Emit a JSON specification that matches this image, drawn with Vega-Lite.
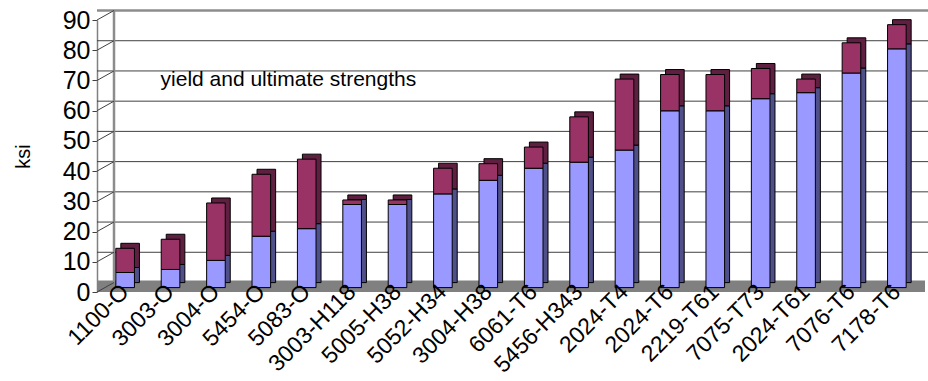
{
  "$schema": "https://vega.github.io/schema/vega-lite/v6.json",
  "autosize": "none",
  "width": 828,
  "height": 272,
  "padding": {"left": 97, "top": 20, "right": 3, "bottom": 89},
  "background": "white",
  "config": {
    "view": {"stroke": null},
    "font": "Liberation Sans"
  },
  "datasets": {
    "alloys": [
      {"alloy": "1100-O", "yield": 5, "ultimate": 13},
      {"alloy": "3003-O", "yield": 6, "ultimate": 16},
      {"alloy": "3004-O", "yield": 9, "ultimate": 28},
      {"alloy": "5454-O", "yield": 17, "ultimate": 37.5},
      {"alloy": "5083-O", "yield": 19.5, "ultimate": 42.5},
      {"alloy": "3003-H118", "yield": 27.5, "ultimate": 29},
      {"alloy": "5005-H38", "yield": 27.5, "ultimate": 29},
      {"alloy": "5052-H34", "yield": 31, "ultimate": 39.5},
      {"alloy": "3004-H38", "yield": 35.5, "ultimate": 41},
      {"alloy": "6061-T6", "yield": 39.5, "ultimate": 46.5},
      {"alloy": "5456-H343", "yield": 41.5, "ultimate": 56.5},
      {"alloy": "2024-T4", "yield": 45.5, "ultimate": 69},
      {"alloy": "2024-T6", "yield": 58.5, "ultimate": 70.5},
      {"alloy": "2219-T61", "yield": 58.5, "ultimate": 70.5},
      {"alloy": "7075-T73", "yield": 62.5, "ultimate": 72.5},
      {"alloy": "2024-T61", "yield": 64.5, "ultimate": 69},
      {"alloy": "7076-T6", "yield": 71, "ultimate": 81},
      {"alloy": "7178-T6", "yield": 79, "ultimate": 87}
    ],
    "grid": [
      {"v": 0}, {"v": 10}, {"v": 20}, {"v": 30}, {"v": 40},
      {"v": 50}, {"v": 60}, {"v": 70}, {"v": 80}, {"v": 90}
    ],
    "one": [{"note": "yield and ultimate strengths"}]
  },
  "layer": [
    {
      "data": {"name": "one"},
      "mark": {"type": "rect", "color": "#808080", "y2Offset": -11.5},
      "encoding": {
        "x": {"value": 0},
        "x2": {"value": "width"},
        "y": {"datum": 0, "type": "quantitative"},
        "y2": {"datum": 0}
      }
    },
    {
      "data": {"name": "grid"},
      "transform": [{"filter": "datum.v > 0 && datum.v < 90"}],
      "mark": {"type": "rule", "color": "#404040", "strokeWidth": 1, "xOffset": 17, "yOffset": -9.5},
      "encoding": {
        "y": {"field": "v", "type": "quantitative"}
      }
    },
    {
      "data": {"name": "grid"},
      "transform": [{"filter": "datum.v == 90"}],
      "mark": {"type": "rule", "color": "#8c8c8c", "strokeWidth": 2.5, "xOffset": 17, "yOffset": -9.5},
      "encoding": {
        "y": {"field": "v", "type": "quantitative"}
      }
    },
    {
      "data": {"name": "one"},
      "mark": {"type": "rule", "color": "#8c8c8c", "strokeWidth": 2.5, "xOffset": 17, "yOffset": -9.5, "y2Offset": -9.5},
      "encoding": {
        "x": {"value": 0},
        "y": {"datum": 0, "type": "quantitative"},
        "y2": {"datum": 90}
      }
    },
    {
      "data": {"name": "grid"},
      "mark": {"type": "rule", "color": "#404040", "strokeWidth": 1, "x2Offset": 17, "y2Offset": -9.5},
      "encoding": {
        "x": {"value": 0},
        "x2": {"value": 0},
        "y": {"field": "v", "type": "quantitative"},
        "y2": {"field": "v"}
      }
    },
    {
      "data": {"name": "one"},
      "mark": {"type": "text", "align": "left", "baseline": "middle", "fontSize": 21, "dx": -10, "color": "black", "font": "Liberation Sans"},
      "encoding": {
        "x": {"datum": "3003-O", "type": "nominal"},
        "y": {"datum": 70, "type": "quantitative"},
        "text": {"field": "note"}
      }
    },
    {
      "data": {"name": "alloys"},
      "encoding": {
        "x": {"field": "alloy", "type": "nominal", "sort": null}
      },
      "layer": [
        {
          "mark": {"type": "bar", "color": "#4f4f8a", "stroke": "black", "strokeWidth": 1, "xOffset": 5, "yOffset": -9.4, "y2Offset": -9.4},
          "encoding": {
            "y": {"field": "yield", "type": "quantitative"},
            "y2": {"datum": 0}
          }
        },
        {
          "mark": {"type": "bar", "color": "#5e1f40", "stroke": "black", "strokeWidth": 1, "xOffset": 5, "yOffset": -9.4, "y2Offset": -9.4},
          "encoding": {
            "y": {"field": "ultimate", "type": "quantitative"},
            "y2": {"field": "yield"}
          }
        },
        {
          "mark": {"type": "bar", "color": "#9999ff", "stroke": "black", "strokeWidth": 1, "yOffset": -4.4, "y2Offset": -4.4},
          "encoding": {
            "y": {"field": "yield", "type": "quantitative"},
            "y2": {"datum": 0}
          }
        },
        {
          "mark": {"type": "bar", "color": "#993366", "stroke": "black", "strokeWidth": 1, "yOffset": -4.4, "y2Offset": -4.4},
          "encoding": {
            "y": {"field": "ultimate", "type": "quantitative"},
            "y2": {"field": "yield"}
          }
        }
      ]
    }
  ],
  "resolve": {"scale": {"x": "shared", "y": "shared"}},
  "encoding": {
    "x": {
      "type": "nominal",
      "scale": {
        "domain": ["1100-O", "3003-O", "3004-O", "5454-O", "5083-O", "3003-H118", "5005-H38", "5052-H34", "3004-H38", "6061-T6", "5456-H343", "2024-T4", "2024-T6", "2219-T61", "7075-T73", "2024-T61", "7076-T6", "7178-T6"],
        "paddingInner": 0.59,
        "paddingOuter": 0.415
      },
      "axis": {
        "title": null,
        "domain": false,
        "ticks": false,
        "labelAngle": -45,
        "labelAlign": "right",
        "labelBaseline": "middle",
        "labelPadding": -4,
        "labelFontSize": 23,
        "labelColor": "black",
        "labelFont": "Liberation Sans",
        "labelOverlap": false,
        "zindex": 1
      }
    },
    "y": {
      "type": "quantitative",
      "scale": {"domain": [0, 90], "nice": false},
      "axis": {
        "title": "ksi",
        "titleFontSize": 20,
        "titleFontWeight": "normal",
        "titleColor": "black",
        "titleFont": "Liberation Sans",
        "titlePadding": 29,
        "values": [0, 10, 20, 30, 40, 50, 60, 70, 80, 90],
        "grid": false,
        "domainColor": "#808080",
        "domainWidth": 1.5,
        "tickColor": "#404040",
        "tickSize": 5,
        "labelFontSize": 25,
        "labelColor": "black",
        "labelFont": "Liberation Sans",
        "labelPadding": 2
      }
    }
  }
}
